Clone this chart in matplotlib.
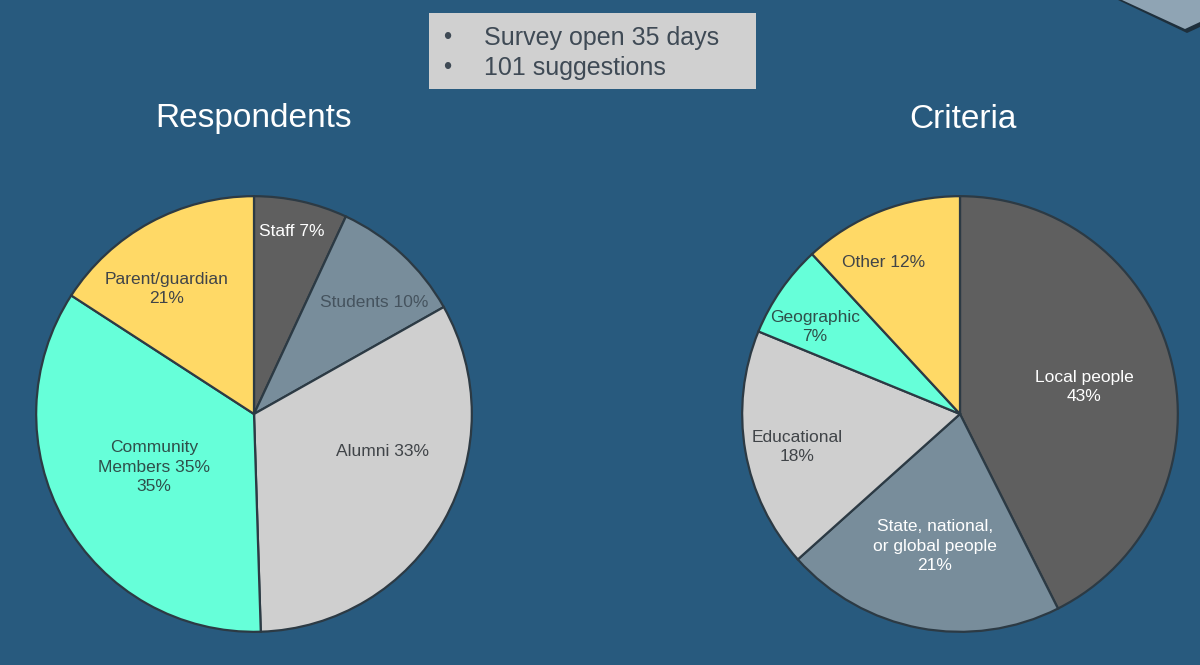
import matplotlib
matplotlib.use("Agg")
import matplotlib.pyplot as plt
from matplotlib.patches import Polygon, FancyBboxPatch

plt.rcParams['font.family'] = ['Liberation Sans', 'DejaVu Sans']

# ---- data ----
resp_labels = ["Staff 7%", "Students 10%", "Alumni 33%",
               "Community\nMembers 35%\n35%", "Parent/guardian\n21%"]
resp_values = [7, 10, 33, 35, 16]
crit_labels = ["Local people\n43%", "State, national,\nor global people\n21%",
               "Educational\n18%", "Geographic\n7%", "Other 12%"]
crit_values = [43, 21, 18, 7, 12]
bullets = ["Survey open 35 days", "101 suggestions"]

# ---- style ----
BG = "#285A7E"
EDGE = "#2C3A44"
DARKTXT = "#404448"
resp_colors = ["#5F5F5F", "#788D9B", "#CFCFCF", "#66FFD9", "#FFD966"]
crit_colors = ["#5F5F5F", "#788D9B", "#CFCFCF", "#66FFD9", "#FFD966"]
resp_txtcol = ["white", "#45535E", DARKTXT, "#2F4F4A", DARKTXT]
crit_txtcol = ["white", "white", DARKTXT, "#2F4F4A", DARKTXT]
# label positions in pixels (figure coords, from top-left)
resp_pos = [(292, 231), (374, 302), (383, 452), (154, 467), (167, 289)]
crit_pos = [(1084, 387), (935, 546), (797, 447), (815, 327), (884, 262)]

W, H = 1200, 665
fig = plt.figure(figsize=(W / 100, H / 100), dpi=100)
fig.patch.set_facecolor(BG)


def make_pie(cx, cy, r, values, colors, labels, pos, tcols):
    ax = fig.add_axes([(cx - r) / W, (H - cy - r) / H, 2 * r / W, 2 * r / H])
    ax.set_facecolor("none")
    ax.pie(values, colors=colors, startangle=90, counterclock=False,
           wedgeprops=dict(edgecolor=EDGE, linewidth=1.6))
    ax.set_xlim(-1.01, 1.01)
    ax.set_ylim(-1.01, 1.01)
    for lab, (px, py), tc in zip(labels, pos, tcols):
        ax.text((px - cx) / r * 1.01, (cy - py) / r * 1.01, lab, ha="center", va="center",
                fontsize=12.5, color=tc, linespacing=1.35)
    return ax


make_pie(254, 414, 220, resp_values, resp_colors, resp_labels, resp_pos, resp_txtcol)
make_pie(960, 414, 220, crit_values, crit_colors, crit_labels, crit_pos, crit_txtcol)

# titles
fig.text(254 / W, 1 - 119 / H, "Respondents", ha="center", va="center",
         fontsize=24, color="white")
fig.text(963 / W, 1 - 119 / H, "Criteria", ha="center", va="center",
         fontsize=24, color="white")

# bullet box
box = FancyBboxPatch((429 / W, 1 - 89 / H), 327 / W, 76 / H,
                     boxstyle="square,pad=0", transform=fig.transFigure,
                     facecolor="#D0D0D0", edgecolor="none")
fig.patches.append(box)
for i, b in enumerate(bullets):
    y = 1 - (38 + 30 * i) / H
    fig.text(447 / W, y, "•", ha="center", va="center", fontsize=17, color="#3F4A55")
    fig.text(484 / W, y, b, ha="left", va="center", fontsize=18, color="#3F4A55")

# corner decoration
shadow = Polygon([(1118 / W, 1.0), (1187 / W, 1 - 33 / H), (1200 / W, 1 - 27 / H),
                  (1200 / W, 1.0)], closed=True, transform=fig.transFigure,
                 facecolor="#1E2F3C", edgecolor="none")
corner = Polygon([(1122 / W, 1.0), (1185 / W, 1 - 29 / H), (1200 / W, 1 - 22 / H),
                  (1200 / W, 1.0)], closed=True, transform=fig.transFigure,
                 facecolor="#8FA4B4", edgecolor="none")
fig.patches.append(shadow)
fig.patches.append(corner)

fig.savefig("out.png", dpi=100, facecolor=BG)
